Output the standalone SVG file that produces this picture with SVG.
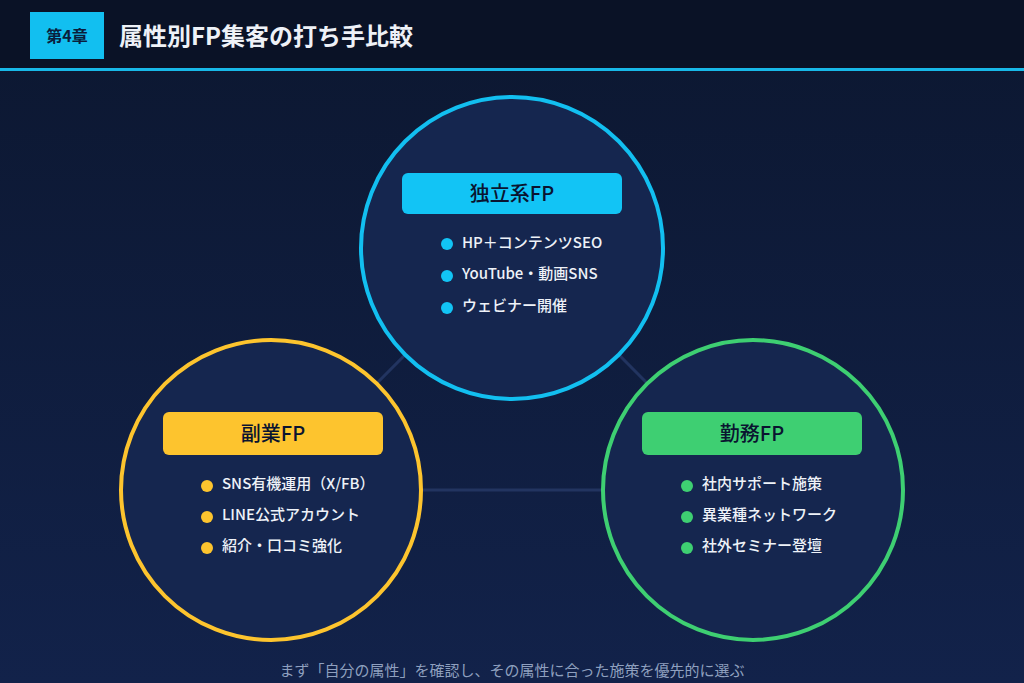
<svg xmlns="http://www.w3.org/2000/svg" width="1024" height="683" viewBox="0 0 1024 683">
<defs>
<linearGradient id="bg" x1="0" y1="0" x2="0" y2="1"><stop offset="0" stop-color="#0c1730"/><stop offset="1" stop-color="#12224a"/></linearGradient>
<style>
text{font-family:"Noto Sans CJK JP","Noto Sans",sans-serif}
.c{fill:#15264f;stroke-width:4}
.pt{font-size:20px;font-weight:500;fill:#0a1430;text-anchor:middle}
.it{font-size:15px;font-weight:500;fill:#eef2f8}
.ln{stroke:#223460;stroke-width:3}
</style>
</defs>
<rect width="1024" height="683" fill="url(#bg)"/>
<rect width="1024" height="68" fill="#0a1226"/>
<rect y="68" width="1024" height="3" fill="#18b8e8"/>
<rect x="30" y="12" width="74" height="47" fill="#12bff0"/>
<text x="67" y="42" font-size="16" font-weight="700" fill="#0a1e3c" text-anchor="middle">第4章</text>
<text x="119" y="45" font-size="24" font-weight="700" fill="#eef1f7">属性別FP集客の打ち手比較</text>
<g id="connectors">
<line class="ln" x1="512" y1="247" x2="271" y2="490"/>
<line class="ln" x1="512" y1="247" x2="753" y2="490"/>
<line class="ln" x1="271" y1="490" x2="753" y2="490"/>
</g>
<g id="independent">
<circle class="c" cx="512" cy="248" r="151" stroke="#12bff0"/>
<rect x="402" y="173" width="220" height="41" rx="6" fill="#12c4f5"/>
<text class="pt" x="512" y="201">独立系FP</text>
<g fill="#12c4f5"><circle cx="447" cy="244" r="6"/><circle cx="447" cy="276" r="6"/><circle cx="447" cy="308" r="6"/></g>
<text class="it" x="462" y="248">HP＋コンテンツSEO</text>
<text class="it" x="462" y="279">YouTube・動画SNS</text>
<text class="it" x="462" y="311">ウェビナー開催</text>
</g>
<g id="side">
<circle class="c" cx="271" cy="490" r="150" stroke="#fdc42e"/>
<rect x="163" y="412" width="220" height="43" rx="6" fill="#fdc42e"/>
<text class="pt" x="273" y="441">副業FP</text>
<g fill="#fdc42e"><circle cx="207" cy="486" r="6"/><circle cx="207" cy="517" r="6"/><circle cx="207" cy="548" r="6"/></g>
<text class="it" x="222" y="489">SNS有機運用（X/FB）</text>
<text class="it" x="222" y="520">LINE公式アカウント</text>
<text class="it" x="222" y="551">紹介・口コミ強化</text>
</g>
<g id="employed">
<circle class="c" cx="753" cy="490" r="150" stroke="#3ecf72"/>
<rect x="642" y="412" width="220" height="43" rx="6" fill="#3ecf72"/>
<text class="pt" x="752" y="441">勤務FP</text>
<g fill="#3ecf72"><circle cx="687" cy="486" r="6"/><circle cx="687" cy="517" r="6"/><circle cx="687" cy="548" r="6"/></g>
<text class="it" x="702" y="489">社内サポート施策</text>
<text class="it" x="702" y="520">異業種ネットワーク</text>
<text class="it" x="702" y="551">社外セミナー登壇</text>
</g>
<text x="512" y="676" font-size="15" fill="#8fa0bf" text-anchor="middle">まず「自分の属性」を確認し、その属性に合った施策を優先的に選ぶ</text>
</svg>
